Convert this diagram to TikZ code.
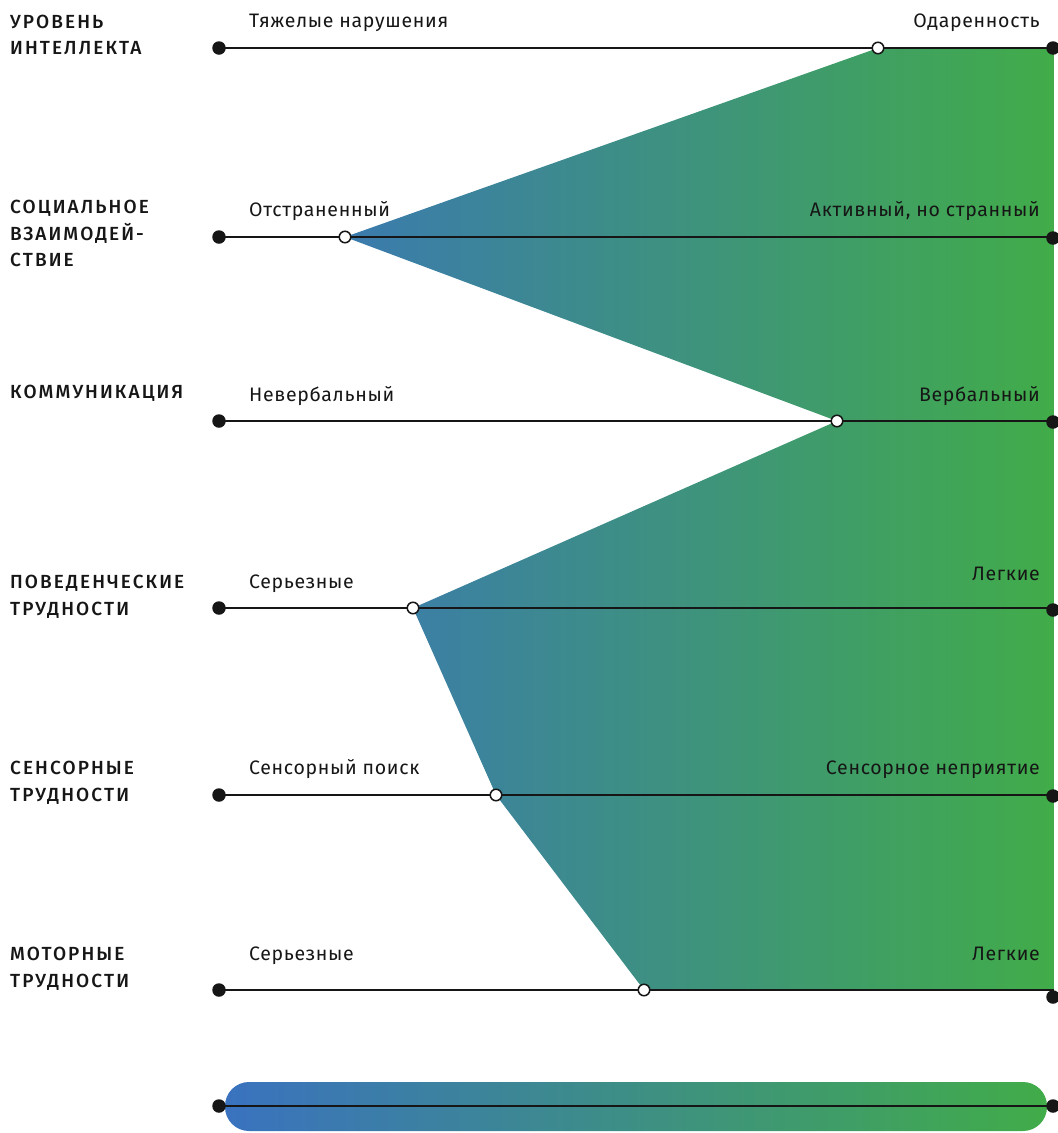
\documentclass[tikz,border=0pt]{standalone}
\usepackage{fontspec}
\setmainfont[LetterSpace=3.5]{Fira Sans}
\newfontfamily\headfont[LetterSpace=11]{Fira Sans Medium}
\definecolor{ink}{HTML}{161616}
\definecolor{gradBlue}{HTML}{3A72BF}
\definecolor{gradGreen}{HTML}{41AC49}

\begin{document}
\begin{tikzpicture}
[x=1pt,y=-1pt,%
  every node/.style={inner sep=0pt},%
  dot/.style={shape=circle,fill=ink,minimum size=13.5pt},%
  knot/.style={shape=circle,draw=ink,fill=white,line width=1.5pt,minimum size=11.5pt},%
  axis/.style={draw=ink,line width=1.3pt},%
  head/.style={anchor=base west,text=ink,font=\headfont\fontsize{19}{22}\selectfont},%
  lo/.style={anchor=base west,text=ink,font=\fontsize{19.5}{22}\selectfont},%
  hi/.style={anchor=base east,text=ink,font=\fontsize{19.5}{22}\selectfont}]
\useasboundingbox (0,0) rectangle (1058,1133);
\foreach \row/\y/\k/\e in {int/48/878/48, soc/237/345/238, com/421/837/422,
  beh/608/413/610, sen/795/496/796, mot/990/644/997}
{
  \coordinate (\row-l) at (219,\y);
  \coordinate (\row-k) at (\k,\y);
  \coordinate (\row-e) at (1054,\y);
  \coordinate (\row-r) at (1053,\e);
}
%% spectrum
\begin{scope}
  \clip (int-k) -- (int-e) -- (mot-e) -- (mot-k) -- (sen-k) -- (beh-k)
    -- (com-k) -- (soc-k) -- cycle;
  \shade[left color=gradBlue,right color=gradGreen] (225,0) rectangle (1054,1133);
\end{scope}
\foreach \row in {int,soc,com,beh,sen,mot}
{
  \draw[axis] (\row-l) -- (\row-e);
  \node[dot] (\row-L) at (\row-l) {};
  \node[dot] (\row-R) at (\row-r) {};
  \node[knot] (\row-K) at (\row-k) {};
}
%%
\node[head] (int-h1) at (10,28) {УРОВЕНЬ};
\node[head] (int-h2) at (10,54) {ИНТЕЛЛЕКТА};
\node[lo] (int-lo) at (249,27) {Тяжелые нарушения};
\node[hi] (int-hi) at (1040,27) {Одаренность};
%%
\node[head] (soc-h1) at (10,213) {СОЦИАЛЬНОЕ};
\node[head] (soc-h2) at (10,240) {ВЗАИМОДЕЙ-};
\node[head] (soc-h3) at (10,266) {СТВИЕ};
\node[lo] (soc-lo) at (249,216) {Отстраненный};
\node[hi] (soc-hi) at (1040,216) {Активный, но странный};
%%
\node[head] (com-h1) at (10,398) {КОММУНИКАЦИЯ};
\node[lo] (com-lo) at (249,401) {Невербальный};
\node[hi] (com-hi) at (1040,401) {Вербальный};
%%
\node[head] (beh-h1) at (10,588) {ПОВЕДЕНЧЕСКИЕ};
\node[head] (beh-h2) at (10,615) {ТРУДНОСТИ};
\node[lo] (beh-lo) at (249,588) {Серьезные};
\node[hi] (beh-hi) at (1040,580) {Легкие};
%%
\node[head] (sen-h1) at (10,774) {СЕНСОРНЫЕ};
\node[head] (sen-h2) at (10,801) {ТРУДНОСТИ};
\node[lo] (sen-lo) at (249,774) {Сенсорный поиск};
\node[hi] (sen-hi) at (1040,774) {Сенсорное неприятие};
%%
\node[head] (mot-h1) at (10,960) {МОТОРНЫЕ};
\node[head] (mot-h2) at (10,987) {ТРУДНОСТИ};
\node[lo] (mot-lo) at (249,960) {Серьезные};
\node[hi] (mot-hi) at (1040,960) {Легкие};
%% scale bar
\shade[left color=gradBlue,right color=gradGreen,rounded corners=24pt]
  (225,1082) rectangle (1047,1131);
\coordinate (bar-l) at (219,1106);
\coordinate (bar-r) at (1053,1106);
\draw[axis] (bar-l) -- (bar-r);
\node[dot] (bar-L) at (bar-l) {};
\node[dot] (bar-R) at (bar-r) {};
\end{tikzpicture}
\end{document}
